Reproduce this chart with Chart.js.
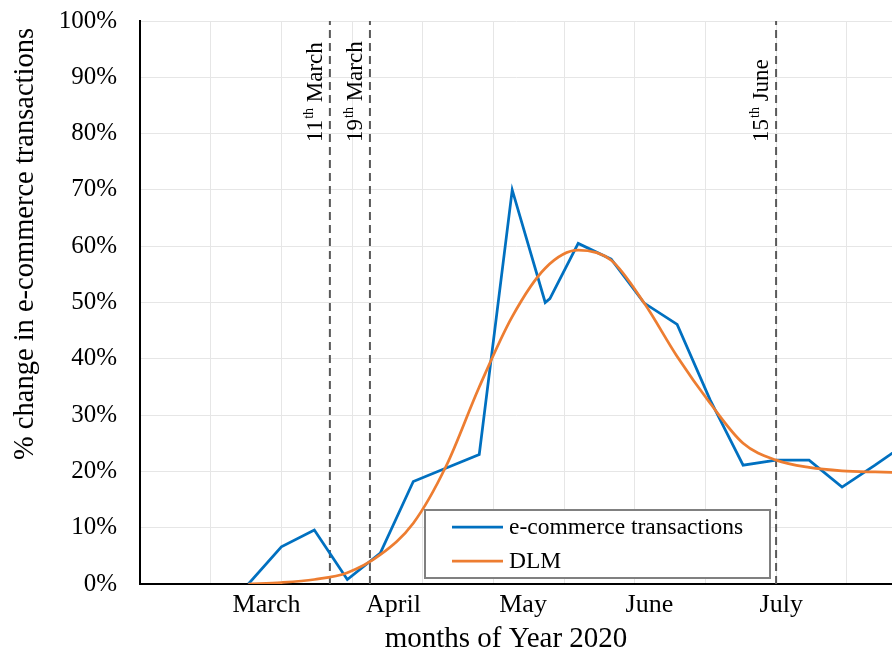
<!DOCTYPE html>
<html>
<head>
<meta charset="utf-8">
<title>e-commerce transactions vs DLM</title>
<script src="https://cdn.jsdelivr.net/npm/chart.js@4.4.1/dist/chart.umd.min.js"></script>
<style>
  html, body { margin: 0; padding: 0; background: #fff; }
  #wrap { width: 892px; height: 652px; }
</style>
</head>
<body>
<div id="wrap"><canvas id="dlmChart" width="892" height="652"></canvas></div>
<script>
// x values are days counted from the first weekly observation (late February 2020)
const ecomDays   = [0, 7, 14, 21, 28, 35, 42, 49, 56, 63, 64, 70, 77, 84, 91, 98, 105, 112, 119, 126, 133, 140];
const ecomValues = [0, 6.6, 9.6, 0.8, 5.5, 18.2, 20.6, 23.0, 70.0, 50.0, 50.7, 60.5, 57.7, 49.9, 46.1, 32.7, 21.1, 22.0, 22.0, 17.2, 21.1, 25.2];

const dlmDays   = [0, 7, 14, 21, 28, 35, 42, 49, 56, 63, 70, 77, 84, 91, 98, 105, 112, 119, 126, 133, 140];
const dlmValues = [0, 0.25, 0.8, 2.0, 5.2, 10.8, 21, 35, 47.5, 56.1, 59.3, 57.5, 49.9, 40.4, 32.1, 25, 22, 20.7, 20.1, 19.9, 19.8];

const monthNames = ["March", "April", "May", "June", "July"];
const monthDays  = [3.85, 30.8, 58.3, 85.1, 113.1];
const gridDays   = [-8, 7, 22, 37, 52, 67, 82, 97, 112, 127];

const eventDays  = [17.3, 25.8, 112];
const eventNum   = ["11", "19", "15"];
const eventMonth = ["March", "March", "June"];

const yTicks = [0, 10, 20, 30, 40, 50, 60, 70, 80, 90, 100];

const SERIF = "'Liberation Serif', 'Times New Roman', serif";
Chart.defaults.font.family = SERIF;
Chart.defaults.color = "#000";

const toPoints = (xs, ys) => xs.map((x, i) => ({ x: x, y: ys[i] }));

/* ---------- dashed event markers ---------- */
const eventSets = eventDays.map(d => ({
  label: "event",
  data: [{ x: d, y: 0 }, { x: d, y: 100 }],
  borderColor: "#595959",
  borderWidth: 2,
  borderDash: [8, 5],
  pointRadius: 0,
  order: 3
}));

/* ---------- overlay text: event labels, legend box, axis titles ---------- */
const overlay = {
  id: "overlay",
  afterDatasetsDraw(chart) {
    const { ctx, chartArea } = chart;
    const xs = chart.scales.x;
    ctx.save();

    // rotated event labels with superscript "th"
    ctx.fillStyle = "#000";
    ctx.textBaseline = "alphabetic";
    ctx.textAlign = "left";
    eventDays.forEach((d, i) => {
      const px = xs.getPixelForValue(d);
      ctx.save();
      ctx.translate(px - 8, 142);
      ctx.rotate(-Math.PI / 2);
      ctx.font = "23px " + SERIF;
      ctx.fillText(eventNum[i], 0, 0);
      let off = ctx.measureText(eventNum[i]).width;
      ctx.font = "14px " + SERIF;
      ctx.fillText("th", off + 1, -9);
      off += ctx.measureText("th").width + 1;
      ctx.font = "23px " + SERIF;
      ctx.fillText(" " + eventMonth[i], off, 0);
      ctx.restore();
    });

    // legend box inside the plot
    const bx = chartArea.left + 285, by = chartArea.top + 489, bw = 345, bh = 68;
    ctx.fillStyle = "#fff";
    ctx.fillRect(bx, by, bw, bh);
    ctx.strokeStyle = "#808080";
    ctx.lineWidth = 2;
    ctx.strokeRect(bx, by, bw, bh);
    ctx.font = "23.5px " + SERIF;
    ctx.textBaseline = "middle";
    chart.data.datasets.filter(ds => ds.inLegend).forEach((ds, i) => {
      const ly = by + 17 + i * 34;
      ctx.strokeStyle = ds.borderColor;
      ctx.lineWidth = 2.75;
      ctx.beginPath();
      ctx.moveTo(bx + 27, ly);
      ctx.lineTo(bx + 78, ly);
      ctx.stroke();
      ctx.fillStyle = "#000";
      ctx.fillText(ds.label, bx + 84, ly + 1);
    });

    // axis titles
    ctx.font = "29px " + SERIF;
    ctx.textAlign = "center";
    ctx.textBaseline = "alphabetic";
    ctx.fillText("months of Year 2020", 506, 647);
    ctx.font = "28.5px " + SERIF;
    ctx.save();
    ctx.translate(33, 244);
    ctx.rotate(-Math.PI / 2);
    ctx.fillText("% change in e-commerce transactions", 0, 0);
    ctx.restore();

    ctx.restore();
  }
};

new Chart(document.getElementById("dlmChart"), {
  type: "line",
  data: {
    datasets: [
      {
        label: "e-commerce transactions",
        data: toPoints(ecomDays, ecomValues),
        borderColor: "#0070C0",
        borderWidth: 2.75,
        pointRadius: 0,
        tension: 0,
        inLegend: true,
        order: 2
      },
      {
        label: "DLM",
        data: toPoints(dlmDays, dlmValues),
        borderColor: "#ED7D31",
        borderWidth: 2.75,
        pointRadius: 0,
        cubicInterpolationMode: "monotone",
        inLegend: true,
        order: 1
      },
      ...eventSets
    ]
  },
  options: {
    responsive: false,
    animation: false,
    devicePixelRatio: 1,
    layout: { padding: { top: 21, right: 0, bottom: 0, left: 0 } },
    plugins: {
      legend: { display: false },
      tooltip: { enabled: false }
    },
    scales: {
      x: {
        type: "linear",
        min: -23,
        max: 136.6,
        weight: 0,
        afterBuildTicks: s => { s.ticks = gridDays.map(v => ({ value: v })); },
        ticks: { display: false },
        grid: { color: "#e6e6e6", lineWidth: 1, drawTicks: false },
        border: { display: false }
      },
      xm: {
        type: "linear",
        position: "bottom",
        min: -23,
        max: 136.6,
        weight: 1,
        afterBuildTicks: s => { s.ticks = monthDays.map(v => ({ value: v })); },
        afterFit: s => { s.height = 68; },
        ticks: {
          autoSkip: false,
          maxRotation: 0,
          padding: 6,
          font: { size: 26 },
          color: "#000",
          callback: (v, i) => monthNames[i]
        },
        grid: { display: false, drawTicks: false },
        border: { display: true, color: "#000", width: 2 }
      },
      y: {
        min: 0,
        max: 100,
        afterBuildTicks: s => { s.ticks = yTicks.map(v => ({ value: v })); },
        afterFit: s => { s.width = 140; s.paddingTop = 0; s.paddingBottom = 0; },
        ticks: {
          padding: 23,
          font: { size: 25 },
          color: "#000",
          callback: v => v + "%"
        },
        grid: { color: "#e6e6e6", lineWidth: 1, drawTicks: false },
        border: { color: "#000", width: 2 }
      }
    }
  },
  plugins: [overlay]
});
</script>
</body>
</html>
